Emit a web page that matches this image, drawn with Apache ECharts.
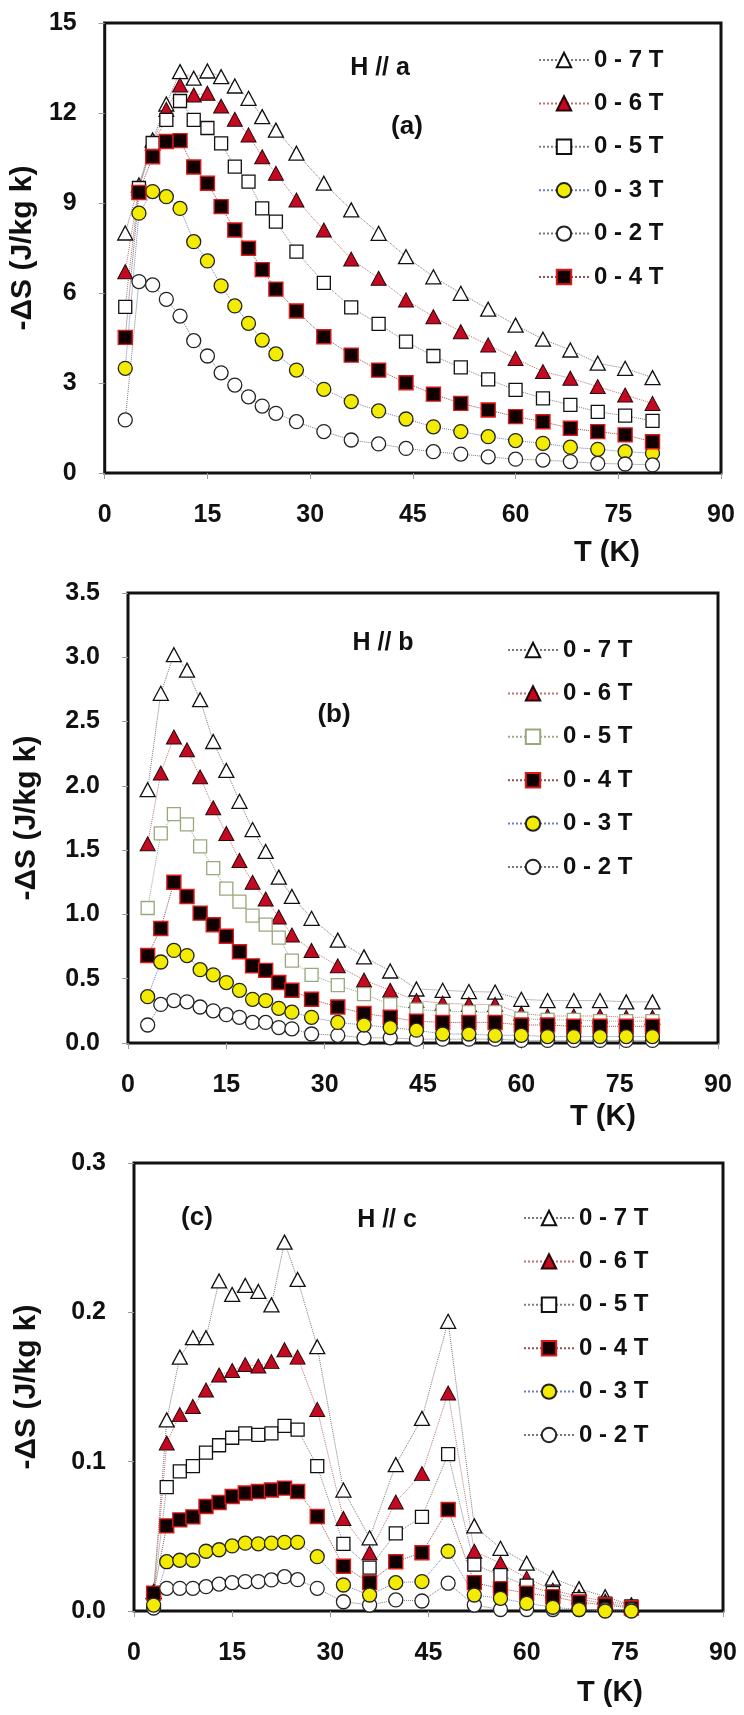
<!DOCTYPE html>
<html>
<head>
<meta charset="utf-8">
<script src="https://cdn.jsdelivr.net/npm/echarts@6/dist/echarts.min.js"></script>
<style>
  html, body { margin: 0; padding: 0; background: #ffffff; }
  #chart { width: 744px; height: 1715px; }
</style>
</head>
<body>
<div id="chart"></div>
<script>
// Temperatures (K)
const tempAB = [3, 5, 7, 9, 11, 13, 15, 17, 19, 21, 23, 25, 28, 32, 36, 40, 44, 48, 52, 56, 60, 64, 68, 72, 76, 80];
const tempC  = [3, 5, 7, 9, 11, 13, 15, 17, 19, 21, 23, 25, 28, 32, 36, 40, 44, 48, 52, 56, 60, 64, 68, 72, 76];

// -ΔS (J/kg K), field along a
const a7 = [8.0, 9.6, 11.1, 12.3, 13.38, 13.16, 13.4, 13.21, 12.9, 12.49, 11.88, 11.43, 10.66, 9.66, 8.77, 7.99, 7.21, 6.54, 5.99, 5.46, 4.93, 4.46, 4.1, 3.66, 3.49, 3.18];
const a6 = [6.71, 9.5, 10.99, 12.12, 12.93, 12.6, 12.66, 12.23, 11.79, 11.27, 10.54, 9.99, 9.1, 8.1, 7.13, 6.49, 5.77, 5.21, 4.71, 4.27, 3.82, 3.38, 3.16, 2.88, 2.6, 2.32];
const a5 = [5.54, 9.5, 11.0, 11.77, 12.4, 11.77, 11.5, 10.99, 10.21, 9.71, 8.82, 8.38, 7.38, 6.34, 5.52, 4.97, 4.38, 3.9, 3.52, 3.12, 2.77, 2.49, 2.27, 2.04, 1.91, 1.74];
const a4 = [4.52, 9.35, 10.54, 11.05, 11.08, 10.2, 9.66, 8.88, 8.1, 7.49, 6.78, 6.13, 5.4, 4.54, 3.93, 3.43, 3.01, 2.63, 2.32, 2.1, 1.88, 1.71, 1.49, 1.38, 1.27, 1.04];
const a3 = [3.49, 8.66, 9.38, 9.21, 8.82, 7.71, 7.07, 6.24, 5.57, 4.99, 4.43, 3.97, 3.43, 2.79, 2.38, 2.07, 1.8, 1.54, 1.38, 1.21, 1.08, 0.99, 0.86, 0.79, 0.71, 0.66];
const a2 = [1.77, 6.38, 6.27, 5.79, 5.23, 4.41, 3.9, 3.34, 2.93, 2.54, 2.23, 1.99, 1.71, 1.38, 1.1, 0.97, 0.82, 0.71, 0.63, 0.54, 0.46, 0.43, 0.38, 0.32, 0.3, 0.27];

// -ΔS (J/kg K), field along b
const b7 = [1.97, 2.72, 3.02, 2.9, 2.67, 2.345, 2.12, 1.88, 1.66, 1.49, 1.29, 1.14, 0.97, 0.8, 0.67, 0.56, 0.42, 0.41, 0.4, 0.396, 0.34, 0.33, 0.33, 0.33, 0.32, 0.32];
const b6 = [1.55, 2.1, 2.38, 2.28, 2.07, 1.83, 1.63, 1.42, 1.25, 1.12, 0.98, 0.84, 0.72, 0.6, 0.49, 0.41, 0.33, 0.31, 0.3, 0.3, 0.23, 0.21, 0.21, 0.21, 0.2, 0.2];
const b5 = [1.05, 1.63, 1.78, 1.7, 1.53, 1.36, 1.2, 1.1, 0.99, 0.92, 0.82, 0.64, 0.53, 0.45, 0.38, 0.3, 0.26, 0.25, 0.24, 0.24, 0.19, 0.18, 0.18, 0.17, 0.17, 0.17];
const b4 = [0.68, 0.89, 1.25, 1.14, 1.01, 0.92, 0.83, 0.71, 0.6, 0.565, 0.47, 0.41, 0.34, 0.28, 0.23, 0.2, 0.17, 0.16, 0.16, 0.16, 0.14, 0.14, 0.13, 0.13, 0.13, 0.13];
const b3 = [0.36, 0.63, 0.72, 0.68, 0.57, 0.53, 0.47, 0.41, 0.34, 0.33, 0.27, 0.24, 0.2, 0.16, 0.14, 0.12, 0.1, 0.07, 0.07, 0.06, 0.06, 0.05, 0.05, 0.05, 0.05, 0.05];
const b2 = [0.14, 0.3, 0.33, 0.32, 0.28, 0.25, 0.22, 0.2, 0.16, 0.16, 0.12, 0.11, 0.07, 0.06, 0.04, 0.04, 0.03, 0.03, 0.03, 0.03, 0.02, 0.02, 0.02, 0.02, 0.02, 0.02];

// -ΔS (J/kg K), field along c
const c7 = [0.013, 0.128, 0.17, 0.183, 0.183, 0.221, 0.212, 0.218, 0.214, 0.205, 0.247, 0.222, 0.177, 0.081, 0.049, 0.098, 0.129, 0.194, 0.057, 0.042, 0.032, 0.022, 0.015, 0.0096, 0.004];
const c6 = [0.013, 0.1125, 0.1315, 0.137, 0.148, 0.158, 0.161, 0.165, 0.164, 0.167, 0.175, 0.17, 0.135, 0.062, 0.039, 0.073, 0.092, 0.146, 0.04, 0.032, 0.022, 0.014, 0.0096, 0.0067, 0.004];
const c5 = [0.012, 0.083, 0.0935, 0.097, 0.106, 0.111, 0.116, 0.119, 0.118, 0.119, 0.124, 0.1215, 0.097, 0.045, 0.029, 0.052, 0.063, 0.105, 0.031, 0.024, 0.017, 0.012, 0.008, 0.005, 0.003];
const c4 = [0.012, 0.057, 0.061, 0.063, 0.07, 0.0727, 0.0767, 0.079, 0.08, 0.081, 0.0823, 0.08, 0.0633, 0.03, 0.019, 0.033, 0.039, 0.068, 0.019, 0.015, 0.012, 0.0096, 0.006, 0.004, 0.002];
const c3 = [0.004, 0.033, 0.034, 0.034, 0.04, 0.041, 0.0436, 0.0454, 0.045, 0.0454, 0.046, 0.046, 0.0364, 0.0174, 0.0107, 0.019, 0.0197, 0.04, 0.0107, 0.0085, 0.0052, 0.0025, 0.001, 0.0, 0.0];
const c2 = [0.002, 0.0152, 0.0152, 0.0152, 0.0163, 0.018, 0.019, 0.0197, 0.0197, 0.0208, 0.023, 0.021, 0.0152, 0.0062, 0.004, 0.0074, 0.0067, 0.0186, 0.004, 0.001, 0.001, 0.001, 0.001, 0.001, 0.001];

// Field-change labels
const fieldLabels = { 7: '0 - 7 T', 6: '0 - 6 T', 5: '0 - 5 T', 4: '0 - 4 T', 3: '0 - 3 T', 2: '0 - 2 T' };
const yTitle = '-ΔS (J/kg k)';
const xTitle = 'T (K)';

const FONT = "'Liberation Sans', Arial, sans-serif";

// Marker look for each field change
const markStyle = {
  7: { symbol: 'triangle', size: [15, 14], fill: '#ffffff', border: '#111111', bw: 1.3, line: '#7a7a7a' },
  6: { symbol: 'triangle', size: [15, 14], fill: '#c40a22', border: '#2a0606', bw: 1, line: '#c07070' },
  5: { symbol: 'rect', size: 13, fill: '#ffffff', border: '#111111', bw: 1.3, line: '#808080' },
  4: { symbol: 'rect', size: 14, fill: '#120000', border: '#e01818', bw: 1.4, line: '#905050' },
  3: { symbol: 'circle', size: 14, fill: '#f4ec00', border: '#222222', bw: 1.3, line: '#6f7fc4' },
  2: { symbol: 'circle', size: 14, fill: '#ffffff', border: '#222222', bw: 1.3, line: '#7a7a7a' }
};

function makeSeries(panel, field, temps, values, gridIdx, override) {
  const s = Object.assign({}, markStyle[field], override || {});
  return {
    name: panel + ':' + fieldLabels[field],
    type: 'line',
    xAxisIndex: gridIdx,
    yAxisIndex: gridIdx,
    data: temps.map((t, i) => [t, values[i]]),
    symbol: s.symbol,
    symbolSize: s.size,
    showAllSymbol: true,
    animation: false,
    lineStyle: { color: s.line, width: 1, type: 'dotted' },
    itemStyle: { color: s.fill, borderColor: s.border, borderWidth: s.bw, opacity: 1 },
    emphasis: { disabled: true }
  };
}

const olive = { border: '#98a87c', line: '#9aac88' };

const series = [
  // panel (a)
  makeSeries('a', 7, tempAB, a7, 0),
  makeSeries('a', 6, tempAB, a6, 0),
  makeSeries('a', 5, tempAB, a5, 0),
  makeSeries('a', 3, tempAB, a3, 0),
  makeSeries('a', 2, tempAB, a2, 0),
  makeSeries('a', 4, tempAB, a4, 0),
  // panel (b)
  makeSeries('b', 7, tempAB, b7, 1),
  makeSeries('b', 6, tempAB, b6, 1),
  makeSeries('b', 5, tempAB, b5, 1, olive),
  makeSeries('b', 4, tempAB, b4, 1),
  makeSeries('b', 2, tempAB, b2, 1),
  makeSeries('b', 3, tempAB, b3, 1),
  // panel (c)
  makeSeries('c', 7, tempC, c7, 2),
  makeSeries('c', 6, tempC, c6, 2),
  makeSeries('c', 5, tempC, c5, 2),
  makeSeries('c', 4, tempC, c4, 2),
  makeSeries('c', 2, tempC, c2, 2),
  makeSeries('c', 3, tempC, c3, 2)
];

const grids = [
  { left: 103, top: 23, width: 618, height: 450 },
  { left: 128, top: 593, width: 590, height: 450 },
  { left: 134, top: 1163, width: 589, height: 448 }
].map(g => Object.assign(g, { show: true, borderColor: '#111111', borderWidth: 3, backgroundColor: 'transparent' }));

const labelStyle = { fontFamily: FONT, fontWeight: 'bold', fontSize: 25, color: '#111111' };
const tickStyle = { show: true, inside: false, length: 6, lineStyle: { color: '#9a9a9a', width: 1 } };

const xAxes = [0, 1, 2].map(i => ({
  type: 'value', gridIndex: i, min: 0, max: 90, interval: 15,
  axisLine: { show: false }, axisTick: tickStyle, splitLine: { show: false },
  axisLabel: Object.assign({ margin: 30 }, labelStyle)
}));

const yRanges = [
  { max: 15, interval: 3, fmt: v => String(v), gap: 60 },
  { max: 3.5, interval: 0.5, fmt: v => v.toFixed(1), gap: 86 },
  { max: 0.3, interval: 0.1, fmt: v => v.toFixed(1), gap: 92 }
];
const yAxes = yRanges.map((r, i) => ({
  type: 'value', gridIndex: i, min: 0, max: r.max, interval: r.interval,
  axisLine: { show: false }, axisTick: tickStyle, splitLine: { show: false },
  axisLabel: Object.assign({ margin: 28, formatter: r.fmt }, labelStyle),
  name: yTitle, nameLocation: 'middle', nameGap: r.gap, nameRotate: 90,
  nameTextStyle: { fontFamily: FONT, fontWeight: 'bold', fontSize: 30, color: '#111111' }
}));

function legendFor(panel, order, left, top) {
  return {
    orient: 'vertical', left: left, top: top, padding: 0,
    itemWidth: 50, itemHeight: 18, itemGap: 19.4,
    selectedMode: false,
    data: order.map(f => panel + ':' + fieldLabels[f]),
    formatter: n => n.slice(2),
    textStyle: { fontFamily: FONT, fontWeight: 'bold', fontSize: 24, lineHeight: 24, color: '#111111' }
  };
}

const legends = [
  legendFor('a', [7, 6, 5, 3, 2, 4], 538, 48),
  legendFor('b', [7, 6, 5, 4, 3, 2], 507, 638),
  legendFor('c', [7, 6, 5, 4, 3, 2], 523, 1206)
];

function txt(text, x, y, size) {
  return {
    type: 'text', x: x, y: y, silent: true,
    style: { text: text, font: 'bold ' + size + 'px ' + FONT, fill: '#111111', align: 'center', verticalAlign: 'middle' }
  };
}

const notes = [
  txt('H // a', 380, 68, 25), txt('(a)', 407, 127, 26), txt(xTitle, 607, 553, 29),
  txt('H // b', 383, 643, 25), txt('(b)', 334, 715, 26), txt(xTitle, 603, 1117, 29),
  txt('(c)', 197, 1218, 26), txt('H // c', 387, 1220, 25), txt(xTitle, 610, 1693, 29)
];

const chart = echarts.init(document.getElementById('chart'), null, { renderer: 'canvas' });
chart.setOption({
  backgroundColor: '#ffffff',
  animation: false,
  grid: grids,
  xAxis: xAxes,
  yAxis: yAxes,
  legend: legends,
  graphic: notes,
  series: series
});
</script>
</body>
</html>
